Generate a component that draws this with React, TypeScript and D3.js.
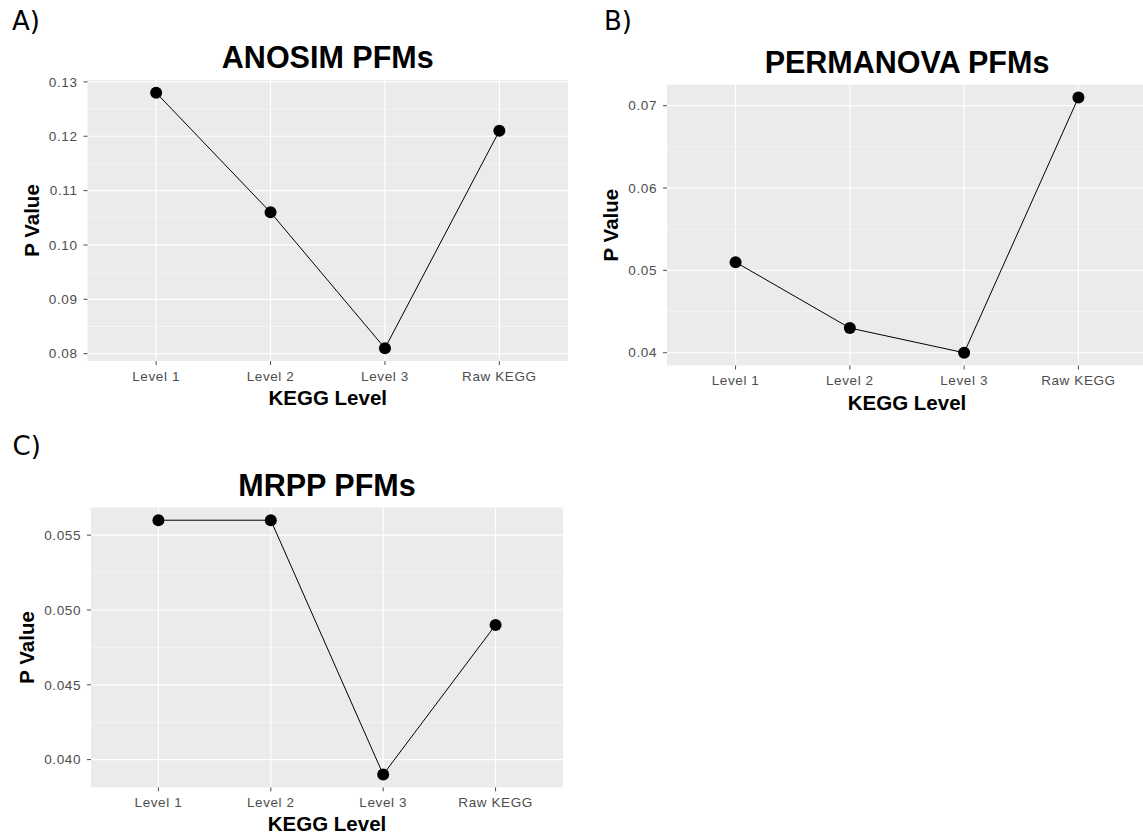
import React from 'react';
import * as d3 from 'd3';

const LEVELS = ['Level 1', 'Level 2', 'Level 3', 'Raw KEGG'];
const ANOSIM_P = [0.128, 0.106, 0.081, 0.121];
const PERMANOVA_P = [0.051, 0.043, 0.040, 0.071];
const MRPP_P = [0.056, 0.056, 0.039, 0.049];
const ANOSIM_TICKS = [0.08, 0.09, 0.10, 0.11, 0.12, 0.13];
const PERMANOVA_TICKS = [0.04, 0.05, 0.06, 0.07];
const MRPP_TICKS = [0.040, 0.045, 0.050, 0.055];

const W = 1143;
const H = 839;
const SANS = '"Liberation Sans", Arial, Helvetica, sans-serif';

type PanelProps = {
  tag: string;
  tagX: number;
  tagY: number;
  title: string;
  values: number[];
  ticks: number[];
  digits: number;
  box: { left: number; top: number; right: number; bottom: number };
  ylabX: number;
};

function Panel({ tag, tagX, tagY, title, values, ticks, digits, box, ylabX }: PanelProps) {
  const { left, top, right, bottom } = box;
  const x = d3.scalePoint<string>().domain(LEVELS).range([left, right]).padding(0.6);
  const [lo, hi] = d3.extent(values) as [number, number];
  const pad = (hi - lo) * 0.05;
  const y = d3.scaleLinear().domain([lo - pad, hi + pad]).range([bottom, top]);
  const step = ticks[1] - ticks[0];
  // minor grid halfway between the major ticks, kept inside the panel
  const minor = d3.range(ticks[0] - step / 2, ticks[ticks.length - 1] + step, step)
    .filter(v => y(v) >= top && y(v) <= bottom);
  const line = d3.line<number>().x((_, i) => x(LEVELS[i]) as number).y(v => y(v));
  const fmt = d3.format(`.${digits}f`);
  const cx = (left + right) / 2;
  const cy = (top + bottom) / 2;

  return (
    <g>
      <text x={tagX} y={tagY} fontFamily='"DejaVu Sans", sans-serif' fontSize={26} fill="#000">{tag}</text>
      <text x={cx} y={top - 12} textAnchor="middle" fontFamily={SANS} fontWeight="bold" fontSize={30.5} fill="#000">{title}</text>
      <rect x={left} y={top} width={right - left} height={bottom - top} fill="#EBEBEB" />
      {minor.map(v => (
        <line key={'m' + v} x1={left} x2={right} y1={y(v)} y2={y(v)} stroke="#fff" strokeWidth={0.6} opacity={0.8} />
      ))}
      {ticks.map(v => (
        <line key={'g' + v} x1={left} x2={right} y1={y(v)} y2={y(v)} stroke="#fff" strokeWidth={1.2} />
      ))}
      {LEVELS.map(l => (
        <line key={'v' + l} x1={x(l)} x2={x(l)} y1={top} y2={bottom} stroke="#fff" strokeWidth={1.2} />
      ))}
      <path d={line(values) || ''} fill="none" stroke="#000" strokeWidth={1} />
      {values.map((v, i) => (
        <circle key={'p' + i} cx={x(LEVELS[i])} cy={y(v)} r={6} fill="#000" />
      ))}
      {ticks.map(v => (
        <g key={'yt' + v}>
          <line x1={left - 4} x2={left} y1={y(v)} y2={y(v)} stroke="#4D4D4D" strokeWidth={1} />
          <text x={left - 10} y={y(v)} dy="0.35em" textAnchor="end" fontFamily={SANS} fontSize={13.5}
            letterSpacing={0.6} fill="#4D4D4D">{fmt(v)}</text>
        </g>
      ))}
      {LEVELS.map(l => (
        <g key={'xt' + l}>
          <line x1={x(l)} x2={x(l)} y1={bottom} y2={bottom + 4} stroke="#4D4D4D" strokeWidth={1} />
          <text x={x(l)} y={bottom + 19.7} textAnchor="middle" fontFamily={SANS} fontSize={13.5}
            letterSpacing={0.6} fill="#4D4D4D">{l}</text>
        </g>
      ))}
      <text x={cx} y={bottom + 44} textAnchor="middle" fontFamily={SANS} fontWeight="bold" fontSize={20.5} fill="#000">KEGG Level</text>
      <text transform={`translate(${ylabX},${cy}) rotate(-90)`} textAnchor="middle" fontFamily={SANS}
        fontWeight="bold" fontSize={20.5} fill="#000">P Value</text>
    </g>
  );
}

export default function App() {
  return (
    <svg width={W} height={H} viewBox={`0 0 ${W} ${H}`}
      style={{ position: 'absolute', left: 0, top: 0, background: '#fff' }}>
      <rect width={W} height={H} fill="#fff" />
      <Panel tag="A)" tagX={12} tagY={29.5} title="ANOSIM PFMs" values={ANOSIM_P} ticks={ANOSIM_TICKS}
        digits={2} box={{ left: 87.5, top: 80, right: 568, bottom: 361 }} ylabX={39.3} />
      <Panel tag="B)" tagX={604} tagY={29.5} title="PERMANOVA PFMs" values={PERMANOVA_P} ticks={PERMANOVA_TICKS}
        digits={2} box={{ left: 667, top: 84.7, right: 1147, bottom: 365.5 }} ylabX={617.5} />
      <Panel tag="C)" tagX={12.5} tagY={455} title="MRPP PFMs" values={MRPP_P} ticks={MRPP_TICKS}
        digits={3} box={{ left: 91, top: 507.5, right: 563, bottom: 787.3 }} ylabX={34} />
    </svg>
  );
}
